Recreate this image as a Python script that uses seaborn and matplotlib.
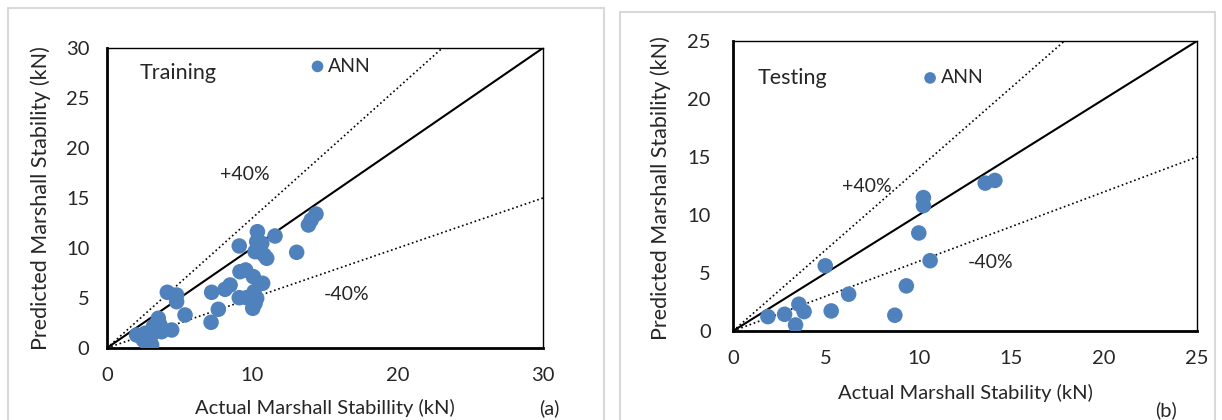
import numpy as np
import pandas as pd
import matplotlib
matplotlib.use("Agg")
import matplotlib.pyplot as plt
import seaborn as sns
from matplotlib.patches import Rectangle

# Training (a)
train_actual = [14.38, 13.86, 14.05, 11.56, 10.35, 10.30, 10.65, 10.19, 10.99, 10.80,
                9.10, 13.05, 9.15, 9.54, 10.07, 10.71, 8.47, 8.12, 7.20, 7.66,
                7.16, 9.10, 9.60, 10.12, 10.30, 10.19, 10.03, 4.15, 4.79, 4.79,
                5.37, 4.45, 3.53, 3.65, 3.76, 3.19, 2.04, 2.62, 2.73, 3.07,
                2.50, 2.96, 3.30]
train_pred = [13.40, 12.30, 12.80, 11.20, 11.63, 10.63, 10.47, 9.63, 8.97, 9.30,
              10.20, 9.57, 7.63, 7.80, 7.13, 6.47, 6.30, 5.87, 5.57, 3.87,
              2.57, 5.03, 5.03, 5.63, 4.97, 4.47, 3.97, 5.57, 5.30, 4.63,
              3.30, 1.80, 2.97, 2.30, 1.63, 2.13, 1.30, 1.47, 0.47, 0.30,
              0.80, 0.97, 1.63]

# Testing (b)
test_actual = [1.88, 2.78, 3.37, 3.55, 3.83, 4.97, 5.29, 6.23, 8.72, 9.34,
               10.01, 10.26, 10.26, 10.62, 13.59, 14.11]
test_pred = [1.24, 1.44, 0.52, 2.31, 1.67, 5.62, 1.73, 3.17, 1.36, 3.89,
             8.45, 11.50, 10.81, 6.06, 12.75, 12.98]

# slopes of the reference lines as drawn in each panel (1:1, upper, lower)
train_slopes = [1.0, 1.3, 0.5]
test_slopes = [1.0, 1.4, 0.6]

BLUE = "#4F81BD"

sns.set_style("white")
plt.rcParams["font.family"] = ["Lato", "DejaVu Sans"]

fig = plt.figure(figsize=(12.22, 4.2), dpi=100)

# light grey panel frames
fig.patches.append(Rectangle((8 / 1222, -0.01), (604 - 8) / 1222, 1 - 8 / 420 + 0.01,
                             transform=fig.transFigure, fill=False, ec="#d9d9d9", lw=1.5))
fig.patches.append(Rectangle((620 / 1222, -0.01), (1215 - 620) / 1222, 1 - 12 / 420 + 0.01,
                             transform=fig.transFigure, fill=False, ec="#d9d9d9", lw=1.5))

ax1 = fig.add_axes([107 / 1222, 1 - 348 / 420, 436 / 1222, 300 / 420])
ax2 = fig.add_axes([733 / 1222, 1 - 331 / 420, 464 / 1222, 290 / 420])


def draw_panel(ax, actual, pred, slopes, lim, step, ypad):
    df = pd.DataFrame({"actual": actual, "pred": pred})
    sns.scatterplot(data=df, x="actual", y="pred", ax=ax, s=125, color=BLUE,
                    edgecolor="none", label="ANN", zorder=3)
    xs = np.array([0, lim])
    styles = ["-", ":", ":"]
    widths = [1.5, 1.2, 1.2]
    for k, m in zip(range(3), slopes):
        line = pd.DataFrame({"x": xs, "y": m * xs})
        sns.lineplot(data=line, x="x", y="y", ax=ax, color="black",
                     linestyle=styles[k], lw=widths[k], zorder=2)
    ax.set_xlim(0, lim)
    ax.set_ylim(0, lim)
    ax.set_xticks(np.arange(0, lim + 1, step))
    ax.set_yticks(np.arange(0, lim + 1, 5))
    ax.tick_params(axis="both", labelsize=14.5, length=3.6, width=1, direction="out",
                   color="black")
    ax.tick_params(axis="x", pad=10)
    ax.tick_params(axis="y", pad=ypad)
    for side in ["top", "right"]:
        ax.spines[side].set_linewidth(1)
        ax.spines[side].set_color("black")
    for side in ["left", "bottom"]:
        ax.spines[side].set_linewidth(2)
        ax.spines[side].set_color("black")
    ax.set_xlabel("")
    ax.set_ylabel("")


draw_panel(ax1, train_actual, train_pred, train_slopes, 30, 10, 9)
draw_panel(ax2, test_actual, test_pred, test_slopes, 25, 5, 12.5)

# panel (a) annotations
ax1.text(4.9, 27.5, "Training", fontsize=15.5, ha="center", va="center")
ax1.text(9.5, 17.4, "+40%", fontsize=14, ha="center", va="center")
ax1.text(16.5, 5.4, "-40%", fontsize=14, ha="center", va="center")
ax1.legend(loc="center left", bbox_to_anchor=(13.95, 28.2), bbox_transform=ax1.transData,
           frameon=False, fontsize=14, handlelength=0.8, handletextpad=0.15,
           borderpad=0, borderaxespad=0, markerscale=0.75)
fig.text(41 / 1222, 1 - 198 / 420, "Predicted Marshall Stability (kN)", fontsize=15.5,
         rotation=90, ha="center", va="center")
fig.text(325 / 1222, 1 - 408 / 420, "Actual Marshall Stabillity (kN)", fontsize=14.5,
         ha="center", va="center")
fig.text(549 / 1222, 1 - 408 / 420, "(a)", fontsize=14.5, ha="center", va="center")

# panel (b) annotations
ax2.text(3.2, 21.85, "Testing", fontsize=15.5, ha="center", va="center")
ax2.text(7.2, 12.5, "+40%", fontsize=14, ha="center", va="center")
ax2.text(13.9, 5.9, "-40%", fontsize=14, ha="center", va="center")
ax2.legend(loc="center left", bbox_to_anchor=(10.2, 21.85), bbox_transform=ax2.transData,
           frameon=False, fontsize=14, handlelength=0.8, handletextpad=0.15,
           borderpad=0, borderaxespad=0, markerscale=0.75)
fig.text(661 / 1222, 1 - 188 / 420, "Predicted Marshall Stability (kN)", fontsize=15.5,
         rotation=90, ha="center", va="center")
fig.text(965 / 1222, 1 - 393 / 420, "Actual Marshall Stability (kN)", fontsize=14.5,
         ha="center", va="center")
fig.text(1166 / 1222, 1 - 410 / 420, "(b)", fontsize=14.5, ha="center", va="center")

fig.savefig("out.png", dpi=100)
